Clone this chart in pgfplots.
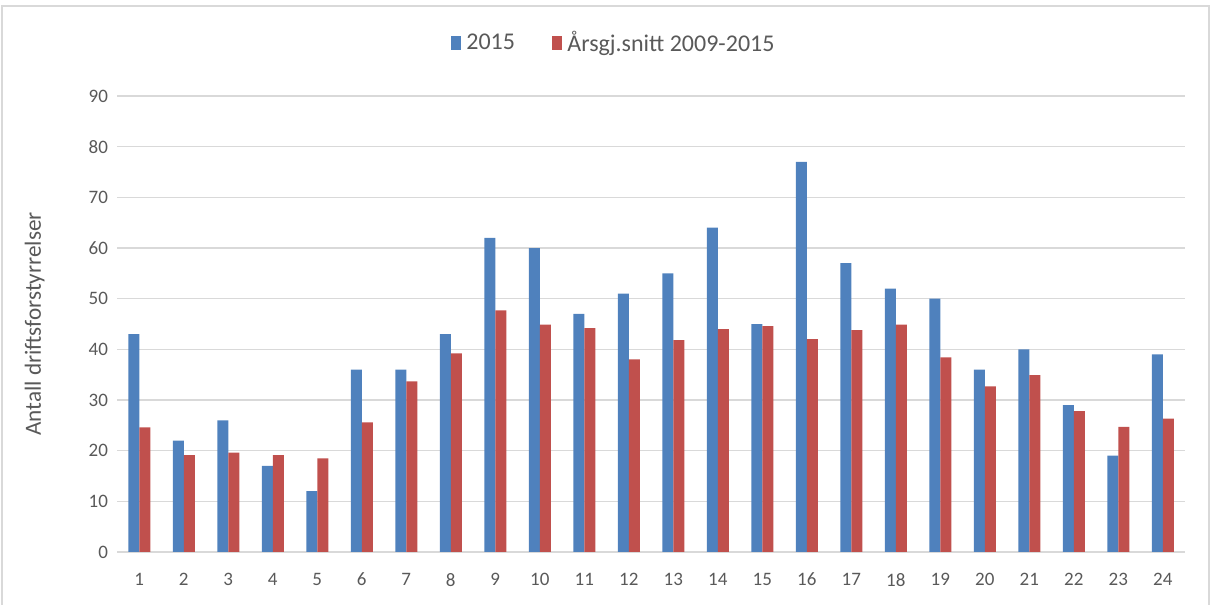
\documentclass[border=0pt]{standalone}
\usepackage{fontspec}
\setmainfont{Carlito}
\usepackage{pgfplots}
\pgfplotsset{compat=1.18}
\definecolor{cblue}{HTML}{4F81BD}
\definecolor{cred}{HTML}{C0504D}
\definecolor{cgrid}{HTML}{D9D9D9}
\definecolor{ctext}{HTML}{595959}
\begin{document}
\begin{tikzpicture}
\useasboundingbox (0pt,0pt) rectangle (605.5pt,302.5pt);
\draw[cgrid, line width=0.8pt] (1pt,-5pt) rectangle (604.5pt,299.5pt);
\begin{axis}[
  at={(58.5pt,26.5pt)}, anchor=south west,
  scale only axis, width=534pt, height=228pt,
  ybar, bar width=5.5pt,
  ymin=0, ymax=90, ytick={0,10,...,90},
  xmin=0.5, xmax=24.5, xtick={1,...,24},
  axis x line*=bottom, axis y line*=left,
  x axis line style={draw=cgrid, line width=0.8pt, -},
  y axis line style={draw=none},
  major tick length=0pt,
  ymajorgrids, grid style={cgrid, line width=0.8pt},
  tick label style={font=\fontsize{9.5}{11}\selectfont, text=ctext},
  /pgf/number format/assume math mode=true,
  xticklabel style={yshift=-7pt},
  yticklabel style={xshift=-1pt},
  ylabel={Antall driftsforstyrrelser},
  ylabel style={at={(axis description cs:-0.077,0.5)}, anchor=center, font=\fontsize{11.6}{13}\selectfont, text=ctext},
  legend columns=2,
  legend style={at={(axis description cs:0.4665,1.116)}, anchor=center, draw=none, fill=none,
    font=\fontsize{12}{14}\selectfont, text=ctext,
    /tikz/every even column/.append style={column sep=16pt},
    /tikz/every odd column/.append style={inner xsep=0pt},
    nodes={inner xsep=2.5pt}},
  legend image code/.code={\fill[#1] (0pt,-3.6pt) rectangle (5.2pt,3.6pt);},
  clip=false,
]
\addplot[fill=cblue, draw=none, bar shift=-2.75pt] coordinates {
(1,43) (2,22) (3,26) (4,17) (5,12) (6,36) (7,36) (8,43) (9,62) (10,60) (11,47) (12,51)
(13,55) (14,64) (15,45) (16,77) (17,57) (18,52) (19,50) (20,36) (21,40) (22,29) (23,19) (24,39)};
\addlegendentry{2015}
\addplot[fill=cred, draw=none, bar shift=2.75pt] coordinates {
(1,24.6) (2,19.1) (3,19.6) (4,19.1) (5,18.5) (6,25.6) (7,33.7) (8,39.2) (9,47.7) (10,44.9)
(11,44.2) (12,38.0) (13,41.8) (14,44.0) (15,44.6) (16,42.0) (17,43.8) (18,44.9) (19,38.4)
(20,32.7) (21,34.9) (22,27.8) (23,24.7) (24,26.3)};
\addlegendentry{Årsgj.snitt 2009-2015}
\end{axis}
\end{tikzpicture}
\end{document}
